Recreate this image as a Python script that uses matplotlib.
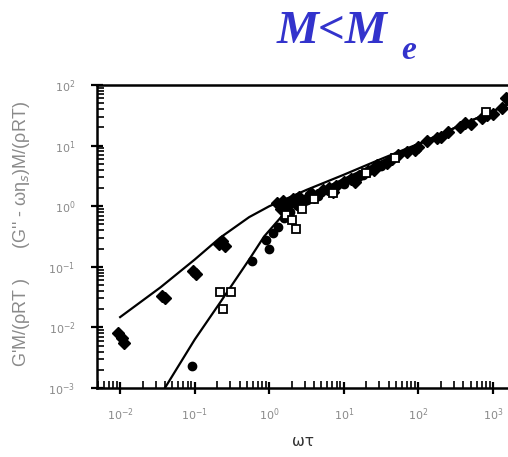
import numpy as np
import matplotlib
matplotlib.use("Agg")
import matplotlib.pyplot as plt
from matplotlib.ticker import LogLocator, FixedLocator, NullFormatter

# model curves (log10 wt, log10 modulus)
upper_lx = [-2.0, -1.46, -1.0, -0.66, -0.27, 0.0, 0.5, 1.0, 1.5, 2.0, 2.5, 3.0, 3.2]
upper_ly = [-1.83, -1.34, -0.88, -0.52, -0.18, 0.0, 0.27, 0.52, 0.78, 1.03, 1.30, 1.57, 1.68]
lower_lx = [-1.40, -1.0, -0.66, -0.27, -0.07, 0.2, 0.5, 1.0, 1.5, 2.0, 2.5, 3.0, 3.2]
lower_ly = [-3.0, -2.2, -1.59, -0.88, -0.50, -0.12, 0.16, 0.45, 0.74, 1.02, 1.30, 1.57, 1.68]

# G'' data (filled diamonds)
dia_lx = [-2.03, -1.97, -1.95, -1.44, -1.40, -1.02, -0.98, -0.68, -0.63, -0.60,
          0.10, 0.18, 0.25, 0.32, 0.40, 0.48, 0.56, 0.64, 0.72, 0.80, 0.90, 1.00,
          1.10, 1.20, 1.32, 1.45, 1.58, 1.72, 1.85, 2.00, 2.12, 2.25, 2.40, 2.55,
          2.70, 2.85, 3.00, 3.12, 3.17, 0.15, 0.35, 0.60, 0.85, 1.15, 1.40, 1.65,
          1.95, 2.30, 2.62, 2.92]
dia_ly = [-2.10, -2.18, -2.25, -1.48, -1.52, -1.07, -1.12, -0.62, -0.57, -0.66,
          0.05, 0.08, 0.02, 0.12, 0.15, 0.10, 0.22, 0.18, 0.27, 0.30, 0.33, 0.40,
          0.45, 0.50, 0.58, 0.68, 0.72, 0.85, 0.90, 0.98, 1.08, 1.12, 1.22, 1.30,
          1.36, 1.45, 1.52, 1.62, 1.78, -0.05, 0.05, 0.15, 0.24, 0.40, 0.60, 0.78,
          0.92, 1.15, 1.38, 1.50]
# G' data (filled circles)
circ_lx = [-1.04, -0.23, -0.05, 0.00, 0.05, 0.12, 0.20, 0.28, 0.38, 0.50,
           0.65, 0.80, 1.00, 1.25, 1.50]
circ_ly = [-2.64, -0.91, -0.55, -0.70, -0.45, -0.35, -0.20, -0.10, 0.00, 0.10,
           0.17, 0.25, 0.36, 0.52, 0.66]
# G' data (open squares)
sq_lx = [-0.66, -0.52, -0.62, 0.22, 0.31, 0.36, 0.44, 0.60, 0.85, 1.30, 1.68, 2.90]
sq_ly = [-1.42, -1.42, -1.70, -0.15, -0.22, -0.38, -0.05, 0.12, 0.22, 0.55, 0.80, 1.55]

xticks = [-2, -1, 0, 1, 2, 3]
yticks = [-3, -2, -1, 0, 1, 2]

fig = plt.figure(figsize=(5.08, 4.57), dpi=100)
ax = fig.add_axes([0.191, 0.151, 0.809, 0.663])

p = lambda v: np.power(10.0, np.asarray(v))
ax.plot(p(upper_lx), p(upper_ly), color="black", lw=1.6)
ax.plot(p(lower_lx), p(lower_ly), color="black", lw=1.6)
ax.plot(p(dia_lx), p(dia_ly), "D", color="black", ms=6, ls="none")
ax.plot(p(circ_lx), p(circ_ly), "o", color="black", ms=6, ls="none")
ax.plot(p(sq_lx), p(sq_ly), "s", mfc="white", mec="black", mew=1.3, ms=6, ls="none")

ax.set_xscale("log")
ax.set_yscale("log")
ax.set_xlim(10**-2.31, 10**3.2)
ax.set_ylim(1e-3, 1e2)

for s in ["left", "bottom", "top"]:
    ax.spines[s].set_linewidth(1.8)
ax.spines["right"].set_visible(False)

ax.xaxis.set_major_locator(FixedLocator(p(xticks)))
ax.yaxis.set_major_locator(FixedLocator(p(yticks)))
ax.xaxis.set_minor_locator(LogLocator(base=10, subs=np.arange(2, 10), numticks=20))
ax.yaxis.set_minor_locator(LogLocator(base=10, subs=np.arange(2, 10), numticks=20))
ax.xaxis.set_minor_formatter(NullFormatter())
ax.yaxis.set_minor_formatter(NullFormatter())
ax.set_xticklabels([r"$10^{%d}$" % t for t in xticks])
ax.set_yticklabels([r"$10^{%d}$" % t for t in yticks])
ax.tick_params(which="major", direction="inout", length=9, width=1.6,
               labelsize=8, labelcolor="#8a8a8a")
ax.tick_params(which="minor", direction="in", length=5, width=1.2)
ax.tick_params(axis="x", which="major", pad=9)
ax.tick_params(axis="y", which="major", pad=11)

ax.set_xlabel("ωτ", fontsize=11, color="#333333", labelpad=8)
fig.text(22 / 508, 0.487, "G'M/(ρRT )      (G'' - ωη$_s$)M/(ρRT)", fontsize=13,
         family="Liberation Sans", color="#8a8a8a", rotation=90,
         ha="center", va="center")

fig.text(0.545, 0.93, "M<M", fontsize=34, family="Liberation Serif",
         style="italic", weight="bold", color="#3333cc", ha="left", va="center")
fig.text(0.79, 0.89, "e", fontsize=24, family="Liberation Serif",
         style="italic", weight="bold", color="#3333cc", ha="left", va="center")

fig.savefig("out.png", dpi=100)
